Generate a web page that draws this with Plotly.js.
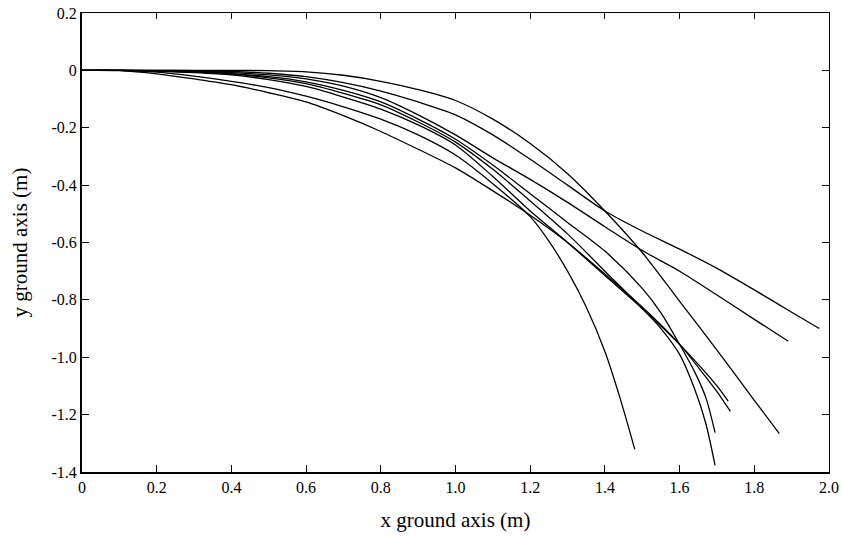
<!DOCTYPE html>
<html>
<head>
<meta charset="utf-8">
<script src="https://cdn.plot.ly/plotly-3.0.1.min.js"></script>
<style>html,body{margin:0;padding:0;background:#fff}#chart{width:842px;height:539px}</style>
</head>
<body>
<div id="chart"></div>
<script>
// Trajectories (x ground axis m, y ground axis m)
const xTop = [0,0.1,0.2,0.3,0.4,0.5,0.6,0.7,0.8,0.9,1.0,1.1,1.2,1.3,1.4,1.5,1.6,1.7,1.8,1.867];
const yTop = [0,0,0,0,0,-0.001,-0.005,-0.017,-0.038,-0.067,-0.105,-0.17,-0.255,-0.36,-0.49,-0.635,-0.805,-0.975,-1.15,-1.266];

const xFlat1 = [0,0.1,0.2,0.3,0.4,0.5,0.6,0.7,0.8,0.9,1.0,1.1,1.2,1.3,1.4,1.5,1.6,1.7,1.8,1.9,1.974];
const yFlat1 = [0,0,0,-0.001,-0.004,-0.01,-0.022,-0.043,-0.072,-0.11,-0.155,-0.225,-0.31,-0.40,-0.49,-0.56,-0.623,-0.69,-0.765,-0.843,-0.90];

const xFlat2 = [0,0.1,0.2,0.3,0.4,0.5,0.6,0.7,0.8,0.9,1.0,1.1,1.2,1.3,1.4,1.5,1.6,1.7,1.8,1.891];
const yFlat2 = [0,0,-0.001,-0.003,-0.008,-0.016,-0.03,-0.055,-0.095,-0.155,-0.225,-0.305,-0.38,-0.46,-0.545,-0.628,-0.70,-0.783,-0.868,-0.944];

const xSteep = [0,0.1,0.2,0.3,0.4,0.5,0.6,0.7,0.8,0.9,1.0,1.1,1.2,1.25,1.3,1.35,1.4,1.44,1.48];
const ySteep = [0,0,-0.006,-0.02,-0.038,-0.06,-0.09,-0.127,-0.17,-0.225,-0.295,-0.395,-0.51,-0.595,-0.70,-0.825,-0.98,-1.14,-1.321];

const xC = [0,0.1,0.2,0.3,0.4,0.5,0.6,0.7,0.8,0.9,1.0,1.1,1.2,1.3,1.4,1.5,1.55,1.6,1.64,1.67,1.695];
const yC = [0,0,-0.002,-0.005,-0.011,-0.022,-0.04,-0.07,-0.11,-0.17,-0.24,-0.33,-0.43,-0.53,-0.63,-0.76,-0.845,-0.955,-1.05,-1.14,-1.263];

const xD = [0,0.1,0.2,0.3,0.4,0.5,0.6,0.7,0.8,0.9,1.0,1.1,1.2,1.3,1.4,1.5,1.55,1.6,1.64,1.67,1.695];
const yD = [0,0,-0.002,-0.006,-0.013,-0.026,-0.046,-0.08,-0.12,-0.18,-0.25,-0.345,-0.455,-0.57,-0.70,-0.83,-0.90,-0.99,-1.11,-1.23,-1.377];

const xA = [0,0.1,0.2,0.3,0.4,0.5,0.6,0.7,0.8,0.9,1.0,1.1,1.2,1.3,1.4,1.5,1.6,1.65,1.7,1.73];
const yA = [0,0,-0.003,-0.008,-0.016,-0.032,-0.056,-0.093,-0.135,-0.19,-0.26,-0.37,-0.49,-0.60,-0.715,-0.83,-0.955,-1.025,-1.10,-1.153];

const xB = [0,0.1,0.2,0.3,0.4,0.5,0.6,0.7,0.8,0.9,1.0,1.1,1.2,1.3,1.4,1.5,1.6,1.65,1.7,1.736];
const yB = [0,-0.001,-0.012,-0.03,-0.05,-0.078,-0.11,-0.158,-0.213,-0.275,-0.34,-0.42,-0.505,-0.60,-0.71,-0.825,-0.955,-1.035,-1.12,-1.189];

const xTickVals = [0,0.2,0.4,0.6,0.8,1.0,1.2,1.4,1.6,1.8,2.0];
const xTickText = ["0","0.2","0.4","0.6","0.8","1.0","1.2","1.4","1.6","1.8","2.0"];
const yTickVals = [0.2,0,-0.2,-0.4,-0.6,-0.8,-1.0,-1.2,-1.4];
const yTickText = ["0.2","0","-0.2","-0.4","-0.6","-0.8","-1.0","-1.2","-1.4"];

const series = [[xTop,yTop],[xFlat1,yFlat1],[xFlat2,yFlat2],[xSteep,ySteep],[xC,yC],[xD,yD],[xA,yA],[xB,yB]];
const traces = series.map(s => ({
  x: s[0], y: s[1], type: 'scatter', mode: 'lines',
  line: {color: '#000', width: 1.3, shape: 'spline', smoothing: 0.8},
  hoverinfo: 'skip', showlegend: false
}));
// mirror frame axes (top/right)
traces.push({x: [0], y: [0], xaxis: 'x2', yaxis: 'y2', mode: 'markers', marker: {opacity: 0}, showlegend: false, hoverinfo: 'skip'});

const font = {family: '"Liberation Serif", "DejaVu Serif", serif', color: '#000'};
const layout = {
  width: 842, height: 539,
  margin: {l: 82, r: 13, t: 13, b: 67},
  paper_bgcolor: '#fff', plot_bgcolor: '#fff',
  showlegend: false,
  font: Object.assign({size: 16}, font),
  xaxis: {
    range: [0, 2], tickvals: xTickVals, ticktext: xTickText,
    ticks: 'inside', ticklen: 7, tickwidth: 1, tickcolor: '#000',
    showline: true, linecolor: '#000', linewidth: 2, zeroline: false, showgrid: false,
    tickfont: Object.assign({size: 16}, font),
    title: {text: 'x ground axis (m)', font: Object.assign({size: 21}, font), standoff: 17}
  },
  yaxis: {
    range: [-1.4, 0.2], tickvals: yTickVals, ticktext: yTickText,
    ticks: 'inside', ticklen: 7, tickwidth: 1, tickcolor: '#000',
    showline: true, linecolor: '#000', linewidth: 2, zeroline: false, showgrid: false,
    tickfont: Object.assign({size: 16}, font),
    title: {text: 'y ground axis (m)', font: Object.assign({size: 21}, font), standoff: 18}
  },
  xaxis2: {
    overlaying: 'x', side: 'top', matches: 'x', range: [0, 2], tickvals: xTickVals,
    showticklabels: false, ticks: 'inside', ticklen: 6, tickwidth: 1, tickcolor: '#000',
    showline: true, linecolor: '#000', linewidth: 1, zeroline: false, showgrid: false
  },
  yaxis2: {
    overlaying: 'y', side: 'right', matches: 'y', range: [-1.4, 0.2], tickvals: yTickVals,
    showticklabels: false, ticks: 'inside', ticklen: 7, tickwidth: 1, tickcolor: '#000',
    showline: true, linecolor: '#000', linewidth: 1, zeroline: false, showgrid: false
  }
};
Plotly.newPlot('chart', traces, layout, {displayModeBar: false, staticPlot: true});
</script>
</body>
</html>
